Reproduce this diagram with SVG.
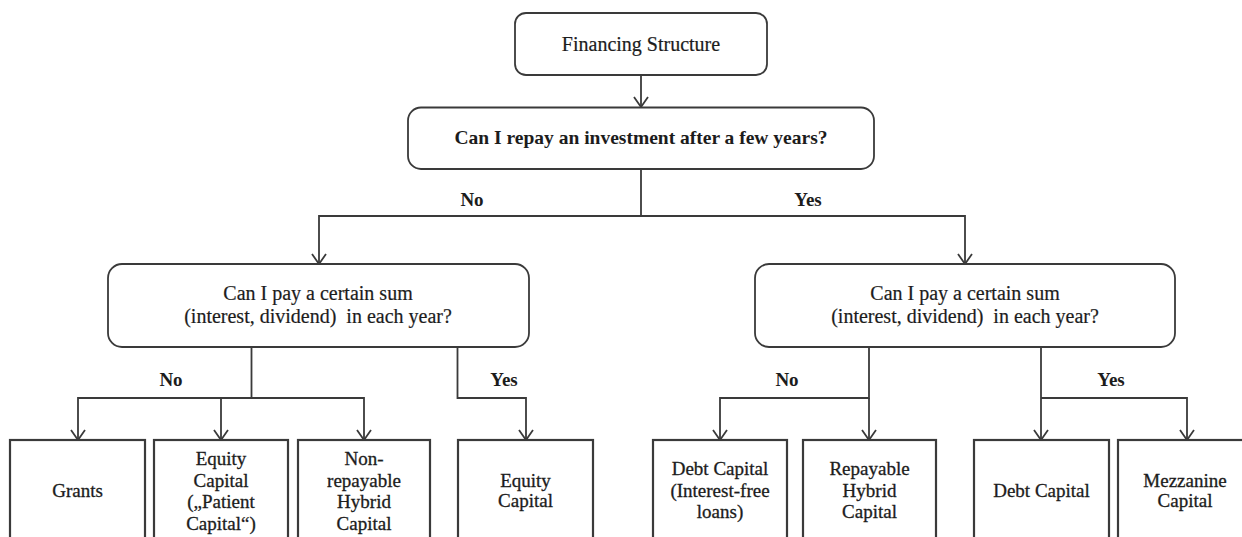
<svg xmlns="http://www.w3.org/2000/svg" width="1242" height="537" viewBox="0 0 1242 537">
<style>
  .box { fill: #ffffff; stroke: #3a3a3a; stroke-width: 1.8; }
  .leaf { fill: #ffffff; stroke: #3a3a3a; stroke-width: 2.2; }
  .conn { fill: none; stroke: #3a3a3a; stroke-width: 1.8; }
  text { font-family: "Liberation Serif", "Times New Roman", serif; fill: #1c1c1c; text-anchor: middle; }
  .t { font-size: 20px; stroke: #1c1c1c; stroke-width: 0.2; }
  .b { font-size: 19.5px; font-weight: bold; }
  .lbl { font-size: 19px; font-weight: bold; }
  .lf { font-size: 19px; stroke: #1c1c1c; stroke-width: 0.3; }
  .pre { white-space: pre; }
</style>
<defs>
  <marker id="arr" markerUnits="userSpaceOnUse" viewBox="0 0 12 16" refX="11" refY="8" markerWidth="12" markerHeight="16" orient="auto">
    <path d="M1,1 L11,8 L1,15" fill="none" stroke="#3a3a3a" stroke-width="1.8"/>
  </marker>
</defs>
<rect width="1242" height="537" fill="#ffffff"/>

<g id="connectors">
  <path class="conn" d="M641,75 V107" marker-end="url(#arr)"/>
  <path class="conn" d="M641,169 V216 H319 V264" marker-end="url(#arr)"/>
  <path class="conn" d="M641,216 H965 V264" marker-end="url(#arr)"/>
  <path class="conn" d="M251.5,347 V398 H78 V440" marker-end="url(#arr)"/>
  <path class="conn" d="M221,398 V440" marker-end="url(#arr)"/>
  <path class="conn" d="M251.5,398 H364 V440" marker-end="url(#arr)"/>
  <path class="conn" d="M457.5,347 V398 H526 V440" marker-end="url(#arr)"/>
  <path class="conn" d="M869,347 V398 H720 V440" marker-end="url(#arr)"/>
  <path class="conn" d="M869,398 V440" marker-end="url(#arr)"/>
  <path class="conn" d="M1041,347 V398 V440" marker-end="url(#arr)"/>
  <path class="conn" d="M1041,398 H1187 V440" marker-end="url(#arr)"/>
  <text class="lbl" x="472" y="205.5">No</text>
  <text class="lbl" x="808" y="205.5">Yes</text>
  <text class="lbl" x="171" y="385.5">No</text>
  <text class="lbl" x="504" y="385.5">Yes</text>
  <text class="lbl" x="787" y="385.5">No</text>
  <text class="lbl" x="1111" y="385.5">Yes</text>
</g>

<g id="node-financing">
  <rect class="box" x="515" y="13" width="252" height="62" rx="11"/>
  <text class="t" x="641" y="51">Financing Structure</text>
</g>
<g id="node-repay">
  <rect class="box" x="408" y="107.5" width="466" height="61.5" rx="13"/>
  <text class="b" x="641" y="144">Can I repay an investment after a few years?</text>
</g>
<g id="node-pay-left">
  <rect class="box" x="108" y="264" width="421" height="83" rx="14"/>
  <text class="t" x="318" y="299.5">Can I pay a certain sum</text>
  <text class="t pre" x="318" y="322.5">(interest, dividend)  in each year?</text>
</g>
<g id="node-pay-right">
  <rect class="box" x="755" y="264" width="420" height="83" rx="14"/>
  <text class="t" x="965" y="299.5">Can I pay a certain sum</text>
  <text class="t pre" x="965" y="322.5">(interest, dividend)  in each year?</text>
</g>

<g id="leaf-grants">
  <rect class="leaf" x="10" y="440" width="135" height="105"/>
  <text class="lf" x="77.5" y="497">Grants</text>
</g>
<g id="leaf-equity-patient">
  <rect class="leaf" x="154" y="440" width="134" height="105"/>
  <text class="lf" x="221" y="465">Equity</text>
  <text class="lf" x="221" y="486.5">Capital</text>
  <text class="lf" x="221" y="508">(„Patient</text>
  <text class="lf" x="221" y="529.5">Capital“)</text>
</g>
<g id="leaf-nonrepayable">
  <rect class="leaf" x="298" y="440" width="132" height="105"/>
  <text class="lf" x="364" y="465">Non-</text>
  <text class="lf" x="364" y="486.5">repayable</text>
  <text class="lf" x="364" y="508">Hybrid</text>
  <text class="lf" x="364" y="529.5">Capital</text>
</g>
<g id="leaf-equity">
  <rect class="leaf" x="458" y="440" width="135" height="105"/>
  <text class="lf" x="525.5" y="486.5">Equity</text>
  <text class="lf" x="525.5" y="507">Capital</text>
</g>
<g id="leaf-debt-free">
  <rect class="leaf" x="653" y="440" width="134" height="105"/>
  <text class="lf" x="720" y="475">Debt Capital</text>
  <text class="lf" x="720" y="496.5">(Interest-free</text>
  <text class="lf" x="720" y="518">loans)</text>
</g>
<g id="leaf-repayable">
  <rect class="leaf" x="803" y="440" width="133" height="105"/>
  <text class="lf" x="869.5" y="475">Repayable</text>
  <text class="lf" x="869.5" y="496.5">Hybrid</text>
  <text class="lf" x="869.5" y="518">Capital</text>
</g>
<g id="leaf-debt">
  <rect class="leaf" x="974" y="440" width="135" height="105"/>
  <text class="lf" x="1041.5" y="496.5">Debt Capital</text>
</g>
<g id="leaf-mezzanine">
  <rect class="leaf" x="1118" y="440" width="134" height="105"/>
  <text class="lf" x="1185" y="486.5">Mezzanine</text>
  <text class="lf" x="1185" y="507">Capital</text>
</g>
</svg>
